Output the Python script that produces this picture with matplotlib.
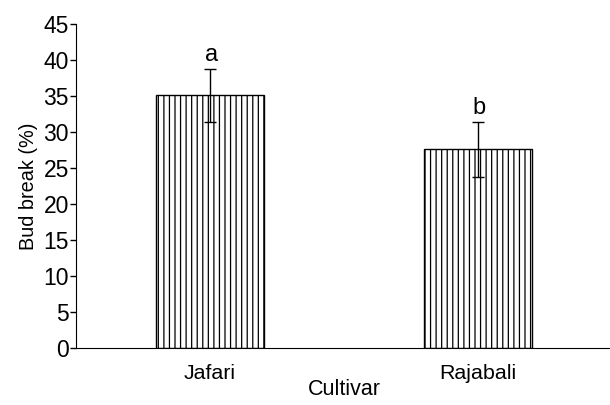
import matplotlib
matplotlib.use("Agg")
import matplotlib.pyplot as plt

categories = ["Jafari", "Rajabali"]
values = [35.1, 27.6]
errors = [3.7, 3.8]
letters = ["a", "b"]
yticks = [0, 5, 10, 15, 20, 25, 30, 35, 40, 45]

plt.rcParams['font.family'] = ['Liberation Sans', 'DejaVu Sans']
plt.rcParams['hatch.linewidth'] = 0.9
plt.rcParams['hatch.color'] = 'black'

fig = plt.figure(figsize=(6.1, 4.05), dpi=100)
ax = fig.add_axes([76/610, (405-348)/405, (612-76)/610, (348-24)/405])

x = list(range(len(categories)))
ax.bar(x, values, width=0.4, color='white', edgecolor='black', linewidth=1.0, hatch='|||')
ax.errorbar(x, values, yerr=errors, fmt='none', ecolor='black', elinewidth=1.0, capsize=4.5, capthick=1.0)
for xi, v, e, l in zip(x, values, errors, letters):
    ax.text(xi + 0.005, v + e + 0.4, l, ha='center', va='bottom', fontsize=17)

ax.set_xlim(-0.5, 1.5)
ax.set_ylim(0, 45)
ax.set_yticks(yticks)
ax.set_xticks(x)
ax.set_xticklabels(categories, fontsize=15.4)
ax.tick_params(axis='y', labelsize=16.5, length=4, width=1, pad=1)
ax.tick_params(axis='x', length=0, pad=11.5)
ax.spines['top'].set_visible(False)
ax.spines['right'].set_visible(False)
ax.set_ylabel("Bud break (%)", fontsize=14.3, labelpad=4)
ax.set_xlabel("Cultivar", fontsize=15.5, labelpad=-3)

fig.savefig("out.png", dpi=100)
